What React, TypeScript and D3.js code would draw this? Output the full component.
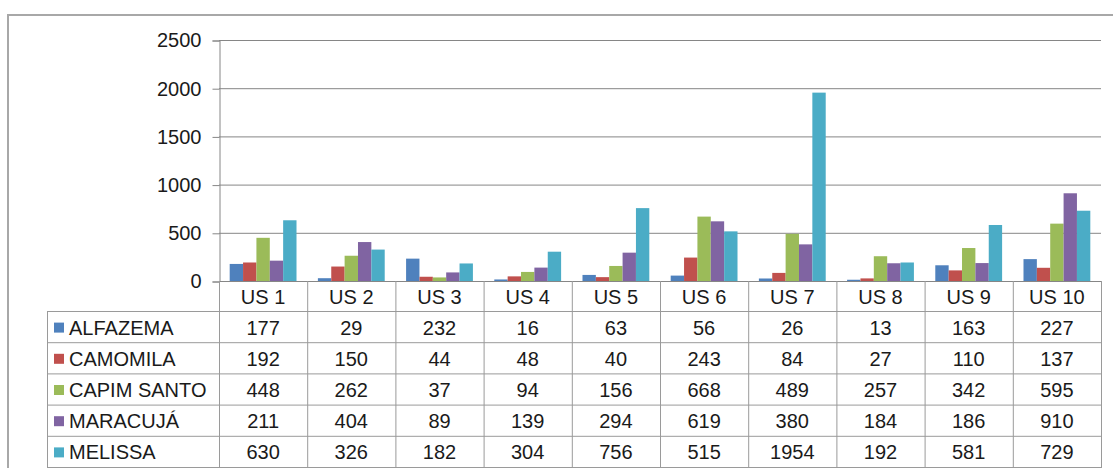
import * as d3 from 'd3';
import React, { useEffect, useRef } from 'react';

const categories = ['US 1', 'US 2', 'US 3', 'US 4', 'US 5', 'US 6', 'US 7', 'US 8', 'US 9', 'US 10'];
const seriesNames = ['ALFAZEMA', 'CAMOMILA', 'CAPIM SANTO', 'MARACUJÁ', 'MELISSA'];
const alfazema = [177, 29, 232, 16, 63, 56, 26, 13, 163, 227];
const camomila = [192, 150, 44, 48, 40, 243, 84, 27, 110, 137];
const capimSanto = [448, 262, 37, 94, 156, 668, 489, 257, 342, 595];
const maracuja = [211, 404, 89, 139, 294, 619, 380, 184, 186, 910];
const melissa = [630, 326, 182, 304, 756, 515, 1954, 192, 581, 729];
const yTicks = [0, 500, 1000, 1500, 2000, 2500];
const colors = ['#4F81BD', '#C0504D', '#9BBB59', '#8064A2', '#4BACC6'];

const seriesValues = [alfazema, camomila, capimSanto, maracuja, melissa];

function App() {
  const svgRef = useRef<SVGSVGElement>(null);

  useEffect(() => {
    const width = 1113;
    const height = 468;
    const plot = { left: 219, right: 1101, top: 40, bottom: 281 };
    const tableLeft = 47;
    const tableBottom = 467;
    const headerBottom = 311;
    const font = '"Liberation Sans", Arial, sans-serif';
    const fontSize = 20;

    const svg = d3.select(svgRef.current)
      .attr('width', width)
      .attr('height', height);
    svg.selectAll('*').remove();

    // outer chart frame (only top/left visible in the crop)
    svg.append('rect')
      .attr('x', 8).attr('y', 15)
      .attr('width', 1200).attr('height', 600)
      .attr('fill', 'none')
      .attr('stroke', '#a8a8a8')
      .attr('stroke-width', 2);

    const x = d3.scaleBand().domain(categories).range([plot.left, plot.right]).padding(0);
    const inner = d3.scaleBand().domain(seriesNames).range([0, x.bandwidth()])
      .paddingInner(0).paddingOuter(0.8);
    const y = d3.scaleLinear().domain([0, 2500]).range([plot.bottom, plot.top]);

    // gridlines
    svg.append('g')
      .selectAll('line')
      .data(yTicks)
      .join('line')
      .attr('x1', plot.left).attr('x2', plot.right)
      .attr('y1', d => y(d) + 0.5).attr('y2', d => y(d) + 0.5)
      .attr('stroke', '#868686');

    // y axis
    const yAxis = d3.axisLeft(y).tickValues(yTicks).tickSize(7).tickPadding(11).tickFormat(d3.format('d'));
    const gy = svg.append('g')
      .attr('transform', `translate(${plot.left + 0.5},0.5)`)
      .call(yAxis);
    gy.select('.domain').attr('stroke', '#868686');
    gy.selectAll('.tick line').attr('stroke', '#868686');
    gy.selectAll('.tick text')
      .attr('font-family', font)
      .attr('font-size', fontSize)
      .attr('fill', '#1a1a1a');

    // bars
    seriesNames.forEach((name, si) => {
      svg.append('g')
        .selectAll('rect')
        .data(seriesValues[si])
        .join('rect')
        .attr('x', (d, i) => (x(categories[i]) as number) + (inner(name) as number))
        .attr('y', d => y(d))
        .attr('width', inner.bandwidth())
        .attr('height', d => y(0) - y(d))
        .attr('fill', colors[si]);
    });

    // data table
    const rows = d3.scaleBand().domain(seriesNames).range([headerBottom, tableBottom]);
    const table = svg.append('g');
    const lineColor = '#9a9a9a';

    // horizontal lines
    const hLines = [headerBottom, ...seriesNames.map(n => (rows(n) as number) + rows.bandwidth())];
    table.selectAll('line.h')
      .data(hLines)
      .join('line')
      .attr('class', 'h')
      .attr('x1', tableLeft).attr('x2', plot.right + 1)
      .attr('y1', d => d + 0.5).attr('y2', d => d + 0.5)
      .attr('stroke', lineColor);

    // vertical lines
    const vLines = [...categories.map(c => x(c) as number), plot.right];
    table.selectAll('line.v')
      .data(vLines)
      .join('line')
      .attr('class', 'v')
      .attr('x1', d => d + 0.5).attr('x2', d => d + 0.5)
      .attr('y1', plot.bottom).attr('y2', tableBottom + 0.5)
      .attr('stroke', lineColor);
    table.append('line')
      .attr('x1', tableLeft + 0.5).attr('x2', tableLeft + 0.5)
      .attr('y1', headerBottom).attr('y2', tableBottom + 0.5)
      .attr('stroke', lineColor);

    // header labels
    table.selectAll('text.cat')
      .data(categories)
      .join('text')
      .attr('class', 'cat')
      .attr('x', d => (x(d) as number) + x.bandwidth() / 2)
      .attr('y', (plot.bottom + headerBottom) / 2 + 1)
      .attr('dy', '0.35em')
      .attr('text-anchor', 'middle')
      .attr('font-family', font)
      .attr('font-size', fontSize)
      .attr('fill', '#1a1a1a')
      .text(d => d);

    // row legend + values
    seriesNames.forEach((name, si) => {
      const cy = (rows(name) as number) + rows.bandwidth() / 2 + 1;
      table.append('rect')
        .attr('x', 54).attr('y', cy - 5)
        .attr('width', 10).attr('height', 10)
        .attr('fill', colors[si]);
      table.append('text')
        .attr('x', 69).attr('y', cy)
        .attr('dy', '0.35em')
        .attr('font-family', font)
        .attr('font-size', fontSize)
        .attr('fill', '#1a1a1a')
        .text(name);
      table.append('g')
        .selectAll('text')
        .data(seriesValues[si])
        .join('text')
        .attr('x', (d, i) => (x(categories[i]) as number) + x.bandwidth() / 2)
        .attr('y', cy)
        .attr('dy', '0.35em')
        .attr('text-anchor', 'middle')
        .attr('font-family', font)
        .attr('font-size', fontSize)
        .attr('fill', '#1a1a1a')
        .text(d => d);
    });
  }, []);

  return (
    <svg
      ref={svgRef}
      style={{ position: 'absolute', left: 0, top: 0, background: '#fff' }}
    />
  );
}

export default App;
